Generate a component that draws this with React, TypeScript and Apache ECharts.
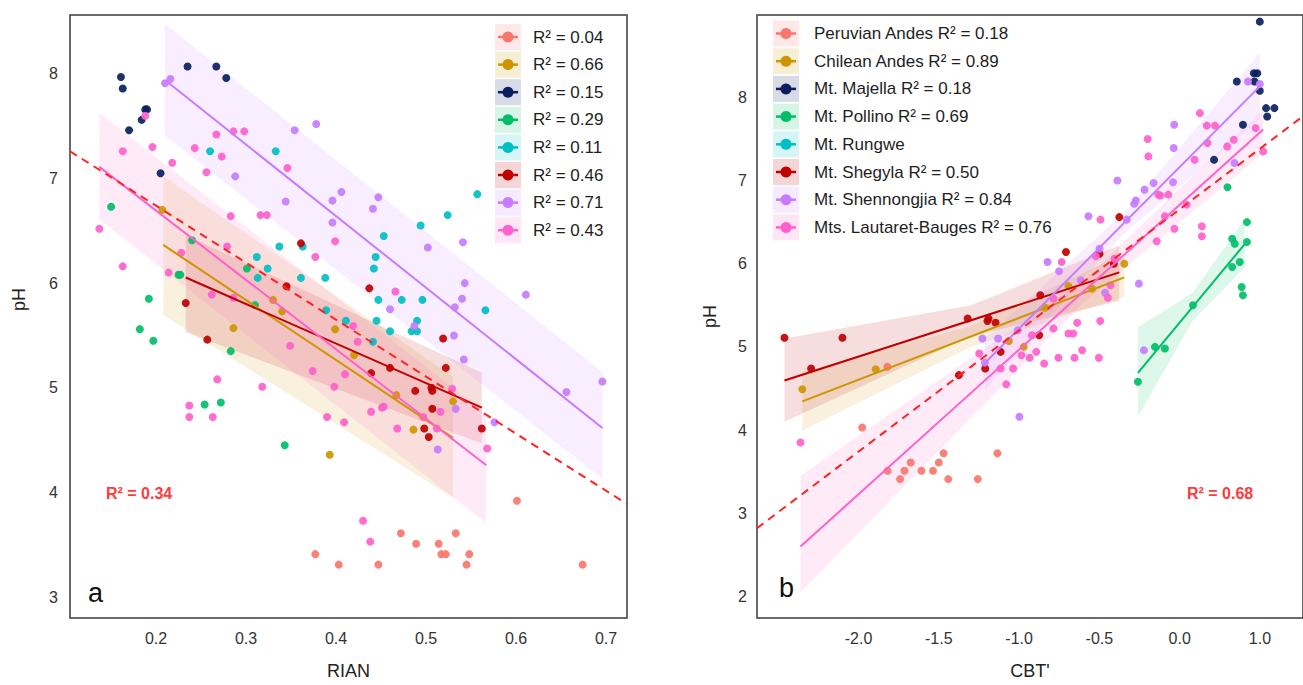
import React, { useEffect, useRef } from "react";
import * as echarts from "echarts";

const FONT = "'Liberation Sans', Arial, sans-serif";

const groups = ["Peruvian Andes", "Chilean Andes", "Mt. Majella", "Mt. Pollino", "Mt. Rungwe", "Mt. Shegyla", "Mt. Shennongjia", "Mts. Lautaret-Bauges"];
const colors = ["#F8766D", "#CD9600", "#0B1F5E", "#00BE67", "#00BFC4", "#C00000", "#C77CFF", "#FF61CC"];
const r2Rian = ["0.04", "0.66", "0.15", "0.29", "0.11", "0.46", "0.71", "0.43"];
const r2Cbt = ["0.18", "0.89", "0.18", "0.69", "", "0.50", "0.84", "0.76"];
const r2OverallRian = "0.34";
const r2OverallCbt = "0.68";

// ---- Panel a: RIAN vs pH ----
const rianPeruvian = [[0.377, 3.41], [0.403, 3.31], [0.447, 3.31], [0.472, 3.61], [0.489, 3.51], [0.514, 3.51], [0.517, 3.41], [0.522, 3.41], [0.533, 3.61], [0.548, 3.41], [0.545, 3.31], [0.601, 3.92], [0.674, 3.31]];
const rianChilean = [[0.207, 6.70], [0.286, 5.57], [0.330, 5.84], [0.340, 5.73], [0.399, 5.56], [0.420, 5.31], [0.393, 4.36], [0.467, 4.93], [0.486, 4.60], [0.530, 4.87]];
const rianMajella = [[0.161, 7.97], [0.163, 7.86], [0.235, 8.07], [0.267, 8.07], [0.278, 7.96], [0.188, 7.66], [0.190, 7.66], [0.184, 7.56], [0.170, 7.46], [0.205, 7.05]];
const rianPollino = [[0.150, 6.73], [0.240, 6.41], [0.227, 6.08], [0.225, 6.08], [0.301, 6.14], [0.192, 5.85], [0.310, 5.79], [0.182, 5.56], [0.197, 5.45], [0.283, 5.35], [0.254, 4.84], [0.272, 4.86], [0.343, 4.45]];
const rianRungwe = [[0.260, 7.26], [0.333, 7.26], [0.337, 6.35], [0.363, 6.35], [0.312, 6.25], [0.324, 6.14], [0.313, 6.05], [0.361, 6.05], [0.388, 6.05], [0.389, 5.74], [0.411, 5.64], [0.444, 6.25], [0.442, 6.14], [0.447, 5.84], [0.445, 5.64], [0.441, 5.44], [0.557, 6.85], [0.524, 6.65], [0.494, 6.55], [0.453, 6.45], [0.473, 5.84], [0.496, 5.84], [0.566, 5.74], [0.490, 5.64], [0.460, 5.54], [0.484, 5.54], [0.490, 5.54]];
const rianShegyla = [[0.361, 6.38], [0.345, 5.97], [0.437, 5.95], [0.233, 5.81], [0.257, 5.46], [0.519, 5.47], [0.522, 5.19], [0.439, 5.14], [0.460, 5.19], [0.488, 4.97], [0.506, 5.00], [0.507, 4.97], [0.507, 4.80], [0.498, 4.61], [0.503, 4.53], [0.562, 4.61]];
const rianShennongjia = [[0.210, 7.91], [0.216, 7.95], [0.354, 7.46], [0.378, 7.52], [0.288, 7.02], [0.344, 6.78], [0.396, 6.79], [0.406, 6.87], [0.396, 6.58], [0.441, 6.71], [0.447, 6.82], [0.502, 6.34], [0.541, 6.39], [0.543, 6.00], [0.540, 5.85], [0.532, 5.77], [0.611, 5.89], [0.460, 5.75], [0.487, 5.59], [0.531, 5.50], [0.542, 5.27], [0.533, 4.80], [0.513, 4.41], [0.576, 4.67], [0.656, 4.96], [0.696, 5.06]];
const rianLautaret = [[0.188, 7.60], [0.163, 7.26], [0.196, 7.30], [0.243, 7.29], [0.267, 7.42], [0.286, 7.45], [0.298, 7.45], [0.273, 7.21], [0.218, 7.15], [0.256, 7.06], [0.346, 7.10], [0.137, 6.52], [0.163, 6.16], [0.283, 6.64], [0.316, 6.65], [0.323, 6.65], [0.279, 6.35], [0.399, 6.40], [0.377, 6.25], [0.228, 6.29], [0.214, 6.10], [0.262, 5.89], [0.286, 5.86], [0.419, 5.59], [0.268, 5.08], [0.237, 4.83], [0.237, 4.72], [0.263, 4.72], [0.318, 5.01], [0.349, 5.40], [0.374, 5.16], [0.398, 5.01], [0.410, 5.13], [0.390, 4.72], [0.409, 4.67], [0.424, 5.44], [0.439, 4.77], [0.430, 3.73], [0.438, 3.53], [0.466, 5.92], [0.529, 4.99], [0.516, 4.77], [0.451, 4.81], [0.453, 4.82], [0.468, 4.61], [0.497, 4.72], [0.512, 4.61], [0.568, 4.42]];

const rianPoints = [rianPeruvian, rianChilean, rianMajella, rianPollino, rianRungwe, rianShegyla, rianShennongjia, rianLautaret];
// fitted lines [x, y] and confidence bands [x, lower, upper]; null = not shown
const rianLines = [null, [[0.208, 6.365], [0.530, 4.521]], null, null, null, [[0.233, 6.054], [0.562, 4.81]], [[0.212, 7.926], [0.696, 4.616]], [[0.137, 7.111], [0.567, 4.26]]];
const rianBands = [null, [[0.208, 5.695, 7.022], [0.530, 3.95, 5.105]], null, null, null, [[0.233, 5.53, 6.457], [0.562, 4.467, 5.143]], [[0.210, 7.41, 8.476], [0.696, 4.13, 5.15]], [[0.137, 6.61, 7.626], [0.567, 3.705, 4.752]]];
const rianOverall = [[0.1044, 7.26], [0.7233, 3.89]];
const rianTicks = [0.2, 0.3, 0.4, 0.5, 0.6, 0.7];
const rianTickLabels = ["0.2", "0.3", "0.4", "0.5", "0.6", "0.7"];
const phTicksA = [3, 4, 5, 6, 7, 8];

// ---- Panel b: CBT' vs pH ----
const cbtPeruvian = [[-1.820, 4.76], [-1.977, 4.03], [-1.675, 3.61], [-1.500, 3.61], [-1.470, 3.72], [-1.135, 3.72], [-1.714, 3.51], [-1.608, 3.51], [-1.536, 3.51], [-1.819, 3.51], [-1.741, 3.41], [-1.441, 3.41], [-1.257, 3.41]];
const cbtChilean = [[-2.350, 4.49], [-1.893, 4.73], [-1.063, 5.07], [-0.971, 5.00], [-0.345, 6.00], [-0.693, 5.73], [-0.546, 5.70], [-0.838, 5.47]];
const cbtMajella = [[0.499, 8.91], [0.462, 8.29], [0.483, 8.29], [0.356, 8.19], [0.466, 8.19], [0.499, 8.08], [0.538, 7.87], [0.590, 7.87], [0.545, 7.77], [0.394, 7.67], [0.214, 7.25]];
const cbtPollino = [[0.298, 6.92], [0.419, 6.50], [0.327, 6.30], [0.343, 6.24], [0.419, 6.26], [0.327, 5.96], [0.374, 6.02], [0.386, 5.72], [0.394, 5.62], [0.083, 5.50], [-0.154, 5.00], [-0.092, 4.98], [-0.260, 4.58]];
const cbtRungwe: number[][] = [];
const cbtShegyla = [[-0.376, 6.56], [-0.708, 6.14], [-0.499, 6.12], [-0.410, 6.00], [-0.868, 5.62], [-0.875, 5.14], [-2.461, 5.11], [-2.100, 5.11], [-2.295, 4.74], [-1.320, 5.34], [-1.191, 5.34], [-1.197, 5.31], [-1.146, 5.29], [-1.115, 4.94], [-1.211, 4.74], [-1.375, 4.66]];
const cbtShennongjia = [[0.425, 8.19], [0.499, 8.16], [-0.034, 7.67], [-0.037, 7.39], [0.341, 7.21], [-0.162, 6.97], [-0.041, 6.98], [-0.219, 6.89], [-0.388, 7.00], [-0.273, 6.76], [-0.283, 6.72], [-0.330, 6.53], [-0.568, 6.57], [-0.499, 6.18], [-0.823, 6.02], [-0.751, 5.91], [-0.616, 5.80], [-0.464, 5.65], [-0.254, 5.76], [-1.228, 5.10], [-1.131, 5.10], [-1.008, 5.20], [-1.213, 4.81], [-0.998, 4.16], [-0.222, 4.96]];
const cbtLautaret = [[0.126, 7.81], [0.169, 7.66], [0.220, 7.66], [-0.199, 7.50], [0.173, 7.45], [0.337, 7.49], [0.296, 7.41], [0.473, 7.63], [0.520, 7.35], [-0.195, 7.29], [0.093, 7.25], [-0.133, 6.83], [-0.121, 6.82], [-0.071, 6.83], [0.043, 6.71], [-0.092, 6.57], [-0.493, 6.53], [-0.033, 6.42], [0.138, 6.45], [0.138, 6.33], [-0.143, 6.27], [-0.735, 6.02], [-0.523, 6.09], [-0.406, 6.06], [-0.431, 5.74], [-0.447, 5.59], [-0.786, 5.58], [-0.638, 5.29], [-0.495, 5.31], [-0.786, 5.22], [-0.693, 5.16], [-0.663, 5.16], [-0.920, 5.14], [-0.893, 4.94], [-0.934, 4.87], [-0.844, 4.80], [-0.755, 4.87], [-0.655, 4.87], [-0.607, 4.96], [-0.503, 4.87], [-2.361, 3.85], [-1.248, 4.92], [-1.115, 4.74], [-1.037, 4.74], [-1.080, 4.55], [-0.985, 4.90]];

const cbtPoints = [cbtPeruvian, cbtChilean, cbtMajella, cbtPollino, cbtRungwe, cbtShegyla, cbtShennongjia, cbtLautaret];
const cbtLines = [null, [[-2.35, 4.344], [-0.345, 5.835]], null, [[-0.26, 4.688], [0.405, 6.235]], null, [[-2.461, 4.596], [-0.376, 5.895]], [[-1.213, 4.805], [0.499, 8.132]], [[-2.361, 2.599], [0.52, 7.613]]];
const cbtBands = [
  null,
  [[-2.35, 3.99, 4.70], [-1.3, 5.0, 5.25], [-0.345, 5.6, 6.12]],
  null,
  [[-0.26, 4.157, 5.236], [0.08, 5.31, 5.65], [0.405, 5.955, 6.534]],
  null,
  [[-2.461, 4.10, 5.10], [-1.3, 5.13, 5.50], [-0.376, 5.55, 6.22]],
  [[-1.213, 4.476, 5.104], [-0.35, 6.36, 6.60], [0.499, 7.733, 8.532]],
  [[-2.361, 2.05, 3.45], [-0.6, 5.53, 5.80], [0.52, 7.334, 7.853]],
];
const cbtOverall = [[-2.632, 2.82], [0.768, 7.773]];
const cbtTicks = [-2, -1.5, -1, -0.5, 0, 0.5];
const cbtTickLabels = ["-2.0", "-1.5", "-1.0", "-0.5", "0.0", "1.0"];
const phTicksB = [2, 3, 4, 5, 6, 7, 8];

function hexA(hex: string, a: number) {
  const n = parseInt(hex.slice(1), 16);
  return `rgba(${(n >> 16) & 255},${(n >> 8) & 255},${n & 255},${a})`;
}

function panelSeries(g: number, points: number[][][], lines: any[], bands: any[], overall: number[][]) {
  const s: any[] = [];
  bands.forEach((b, i) => {
    if (!b) return;
    const fill = hexA(colors[i], 0.13);
    s.push({
      type: "custom", xAxisIndex: g, yAxisIndex: g, silent: true, z: 1, clip: true,
      encode: { x: 0, y: [1, 2] },
      data: b,
      renderItem: (params: any, api: any) => {
        if (params.dataIndex !== 0) return null;
        const upper = b.map((r: number[]) => api.coord([r[0], r[2]]));
        const lower = b.slice().reverse().map((r: number[]) => api.coord([r[0], r[1]]));
        return { type: "polygon", shape: { points: [...upper, ...lower] }, style: { fill, stroke: "none" } };
      },
    });
  });
  points.forEach((p, i) => {
    s.push({ type: "scatter", name: groups[i], xAxisIndex: g, yAxisIndex: g, symbolSize: 8, z: 3,
      itemStyle: { color: colors[i], opacity: 0.92 }, data: p });
  });
  lines.forEach((l, i) => {
    if (!l) return;
    s.push({ type: "line", xAxisIndex: g, yAxisIndex: g, symbol: "none", z: 4, silent: true,
      lineStyle: { color: colors[i], width: 2 }, data: l });
  });
  s.push({ type: "line", xAxisIndex: g, yAxisIndex: g, symbol: "none", z: 5, silent: true,
    lineStyle: { color: "#FF2222", width: 2, type: [8, 6] }, data: overall });
  return s;
}

function legendGraphics(x0: number, y0: number, dy: number, textX: number, labels: string[]) {
  const els: any[] = [];
  labels.forEach((t, i) => {
    const cy = y0 + i * dy;
    els.push({ type: "rect", shape: { x: x0, y: cy - 13, width: 26, height: 26 }, style: { fill: hexA(colors[i], 0.16) }, silent: true });
    els.push({ type: "line", shape: { x1: x0 + 3, y1: cy, x2: x0 + 23, y2: cy }, style: { stroke: colors[i], lineWidth: 2.5 }, silent: true });
    els.push({ type: "circle", shape: { cx: x0 + 13, cy, r: 5.5 }, style: { fill: colors[i] }, silent: true });
    els.push({ type: "text", x: textX, y: cy, style: { text: t, fontSize: 17, fontFamily: FONT, fill: "#1e1e1e", align: "left", verticalAlign: "middle" }, silent: true });
  });
  return els;
}

export default function App() {
  const ref = useRef<HTMLDivElement>(null);
  useEffect(() => {
    if (!ref.current) return;
    const chart = echarts.init(ref.current, undefined, { renderer: "svg" });
    const axisText = { fontSize: 16, color: "#333", fontFamily: FONT };
    const nameText = { fontSize: 18, color: "#222", fontFamily: FONT };
    const lbl = (ticks: number[], labels: string[]) => (v: number) => {
      const k = ticks.findIndex((t) => Math.abs(t - v) < 1e-6);
      return k >= 0 ? labels[k] : "";
    };
    const legA = groups.map((_, i) => `R² = ${r2Rian[i]}`);
    const legB = groups.map((g, i) => (r2Cbt[i] ? `${g} R² = ${r2Cbt[i]}` : g));
    const option: any = {
      animation: false,
      backgroundColor: "#ffffff",
      grid: [
        { left: 70, top: 15, width: 557, height: 605, show: true, borderColor: "#3a3a3a", borderWidth: 1.5, backgroundColor: "transparent" },
        { left: 757, top: 15, width: 552, height: 605, show: true, borderColor: "#3a3a3a", borderWidth: 1.5, backgroundColor: "transparent" },
      ],
      xAxis: [
        { type: "value", gridIndex: 0, min: 0.1044, max: 0.7233, name: "RIAN", nameLocation: "middle", nameGap: 44, nameTextStyle: nameText,
          axisLine: { show: false }, axisTick: { show: false }, splitLine: { show: false },
          axisLabel: { ...axisText, margin: 12, customValues: rianTicks, formatter: lbl(rianTicks, rianTickLabels) } },
        { type: "value", gridIndex: 1, min: -2.632, max: 0.768, name: "CBT'", nameLocation: "middle", nameGap: 44, nameTextStyle: nameText,
          axisLine: { show: false }, axisTick: { show: false }, splitLine: { show: false },
          axisLabel: { ...axisText, margin: 12, customValues: cbtTicks, formatter: lbl(cbtTicks, cbtTickLabels) } },
      ],
      yAxis: [
        { type: "value", gridIndex: 0, min: 2.80, max: 8.562, name: "pH", nameLocation: "middle", nameGap: 42, nameTextStyle: { ...nameText, padding: [0, 0, 0, 34] },
          axisLine: { show: false }, axisTick: { show: false }, splitLine: { show: false },
          axisLabel: { ...axisText, margin: 12, customValues: phTicksA, formatter: (v: number) => String(v) } },
        { type: "value", gridIndex: 1, min: 1.74, max: 8.99, name: "pH", nameLocation: "middle", nameGap: 38, nameTextStyle: nameText,
          axisLine: { show: false }, axisTick: { show: false }, splitLine: { show: false },
          axisLabel: { ...axisText, margin: 10, customValues: phTicksB, formatter: (v: number) => String(v) } },
      ],
      series: [
        ...panelSeries(0, rianPoints, rianLines, rianBands, rianOverall),
        ...panelSeries(1, cbtPoints, cbtLines, cbtBands, cbtOverall),
      ],
      graphic: [
        ...legendGraphics(495, 37, 27.6, 533, legA),
        ...legendGraphics(773, 33.5, 27.7, 814, legB),
        { type: "text", x: 106, y: 493, style: { text: `R² = ${r2OverallRian}`, fontSize: 16, fontWeight: "bold", fontFamily: FONT, fill: "#FF3B3B", align: "left", verticalAlign: "middle" }, silent: true },
        { type: "text", x: 1187, y: 493, style: { text: `R² = ${r2OverallCbt}`, fontSize: 16, fontWeight: "bold", fontFamily: FONT, fill: "#FF3B3B", align: "left", verticalAlign: "middle" }, silent: true },
        { type: "text", x: 88, y: 593, style: { text: "a", fontSize: 27, fontFamily: FONT, fill: "#111", align: "left", verticalAlign: "middle" }, silent: true },
        { type: "text", x: 779, y: 588, style: { text: "b", fontSize: 27, fontFamily: FONT, fill: "#111", align: "left", verticalAlign: "middle" }, silent: true },
      ],
    };
    chart.setOption(option);
    return () => chart.dispose();
  }, []);
  return (
    <div style={{ position: "fixed", left: 0, top: 0, width: 1303, height: 685, overflow: "hidden", background: "#fff" }}>
      <div ref={ref} style={{ width: 1303, height: 685 }} />
    </div>
  );
}
